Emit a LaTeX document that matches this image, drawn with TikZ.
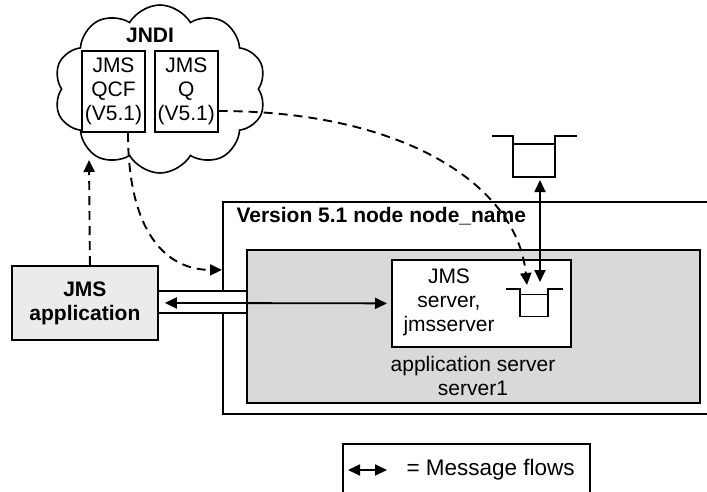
\documentclass[tikz,border=0pt]{standalone}
\usepackage{fontspec}
\setmainfont{Liberation Sans}
\usepackage{tikz}
\usetikzlibrary{arrows.meta, positioning, shapes.symbols}

\definecolor{panelgray}{HTML}{D9D9D9}
\definecolor{appgray}{HTML}{EBEBEB}

\tikzset{
    qcup/.pic={
        \draw[line width=1.8pt] (-42,0) -- (-21,0) -- (-21,41) -- (21,41) -- (21,0) -- (43,0);
        \draw[line width=1.3pt] (-21,8) -- (21,8);
        \coordinate (-rim) at (0,0);
        \coordinate (-base) at (0,41);
    },
}

\begin{document}
\begin{tikzpicture}[
    x=1pt, y=-1pt,
    font=\fontsize{21}{24}\selectfont,
    box/.style={draw, line width=1.8pt, inner sep=0pt},
    objbox/.style={box, minimum width=63pt, minimum height=81pt, align=center},
    msg/.style={{Triangle[length=12pt,width=11pt]}-{Triangle[length=12pt,width=11pt]}, line width=1.8pt},
    lookup/.style={-{Triangle[length=12pt,width=11pt]}, line width=1.9pt, dash pattern=on 9pt off 6pt},
]
\useasboundingbox (0,0) rectangle (707,491);

% JNDI namespace
\node[draw, cloud, cloud puffs=10, cloud puff arc=120, aspect=1.3, line width=1.6pt,
      minimum width=212pt, minimum height=168pt] (jndi) at (160,89) {};
\node[font=\fontsize{21}{24}\selectfont\bfseries] (jndilabel) at (150,35) {JNDI};
\node[objbox] (qcf) at (113.5,91.5) {JMS\\QCF\\(V5.1)};
\node[objbox, right=8pt of qcf] (jmsq) {JMS\\Q\\(V5.1)};

% node and application server
\node[box, anchor=north west, minimum width=520pt, minimum height=212pt] (nodebox) at (222,201) {};
\node[anchor=west, font=\fontsize{21}{24}\selectfont\bfseries] (nodetitle) at (233,216) {Version 5.1 node node\_name};
\node[draw=none, fill=white, anchor=west, inner sep=0pt, minimum width=89pt, minimum height=22pt] (pipe) at (157,302) {};
\draw[line width=1.8pt] (pipe.north west) -- (pipe.north east);
\draw[line width=1.8pt] (pipe.south west) -- (pipe.south east);
\node[box, fill=panelgray, anchor=north west, minimum width=453pt, minimum height=153pt] (appserver) at (246,249) {};
\node[box, fill=white, anchor=north west, minimum width=179pt, minimum height=87pt] (jmsserver) at (391,259) {};
\node[align=center] (srvlabel) at (449,302) {JMS\\server,\\jmsserver};
\node[align=center] (aslabel) at (473,375.5) {application server\\server1};

% queues
\pic (remoteq) at (534,136) {qcup};
\pic[scale=0.67] (localq) at (534,289) {qcup};

% JMS application
\node[box, fill=appgray, anchor=north west, minimum width=146pt, minimum height=74pt] (jmsapp) at (11,265) {};
\node[align=center, font=\fontsize{21}{24}\selectfont\bfseries] (applabel) at (jmsapp.center) {JMS\\application};

% lookups
\coordinate (jndiin) at (89,160);
\draw[lookup] ([xshift=5pt]jmsapp.north) -- (jndiin);
\draw[lookup] ([xshift=14.5pt]qcf.south) .. controls +(0,98) and +(-57,0) .. ([yshift=38pt]nodebox.west);
\draw[lookup] ([yshift=-19.5pt]jmsq.east) .. controls +(185,0) and +(-10,-100) .. ([xshift=-7pt,yshift=4pt]localq-rim);

% message flows
\draw[msg, shorten <=6pt, shorten >=4pt] (jmsapp.east) -- (jmsserver.west);
\draw[msg] ([xshift=6pt,yshift=-3pt]remoteq-base) -- ([xshift=6pt,yshift=7pt]localq-rim);

% legend
\node[box, anchor=north west, minimum width=247pt, minimum height=70pt] (legend) at (342,443) {};
\draw[msg] ([xshift=6pt,yshift=-27pt]legend.north west) -- ++(39,0);
\node[anchor=west, font=\fontsize{22.5}{26}\selectfont] (legendtext) at (403,470) {= Message flows};

\end{tikzpicture}
\end{document}
